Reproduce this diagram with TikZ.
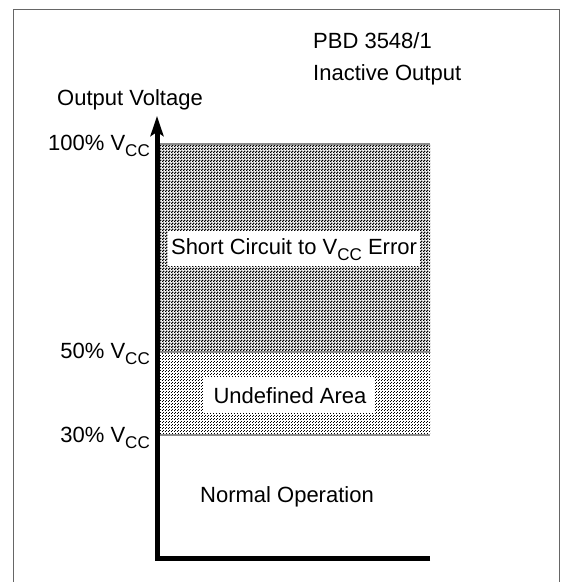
\documentclass[tikz,border=0pt]{standalone}
\usepackage{fontspec}
\setmainfont{Liberation Sans}
\usetikzlibrary{arrows.meta,patterns}
\pgfdeclarepatternformonly{darkcheck}{\pgfpointorigin}{\pgfpoint{3pt}{3pt}}{\pgfpoint{3pt}{3pt}}{%
  \pgfpathrectangle{\pgfpointorigin}{\pgfpoint{1.8pt}{1.8pt}}%
  \pgfpathrectangle{\pgfpoint{1.5pt}{1.5pt}}{\pgfpoint{1.8pt}{1.8pt}}%
  \pgfusepath{fill}}
\pgfdeclarepatternformonly{lightcheck}{\pgfpointorigin}{\pgfpoint{3pt}{3pt}}{\pgfpoint{3pt}{3pt}}{%
  \pgfpathrectangle{\pgfpointorigin}{\pgfpoint{1.1pt}{1.1pt}}%
  \pgfpathrectangle{\pgfpoint{1.5pt}{1.5pt}}{\pgfpoint{1.1pt}{1.1pt}}%
  \pgfusepath{fill}}
\newcommand{\VccSub}{V\raisebox{-0.28em}{\fontsize{17}{17}\selectfont CC}}
\tikzset{
  lbl/.style={font=\fontsize{22}{26}\selectfont, inner sep=0pt, text=black},
  level/.style={lbl, anchor=east},
  axisline/.style={line width=5pt, black},
  edge/.style={draw=black!45, line width=1.2pt},
  frameline/.style={draw=black!60, line width=1pt}
}
\begin{document}
\begin{tikzpicture}[x=1pt,y=-1pt]
\useasboundingbox (0,0) rectangle (568,582);
% frame
\draw[frameline] (13,590) -- (13,9) -- (559,9) -- (559,590);
% regions
\fill[pattern=darkcheck] (160,144) rectangle (430,352);
\fill[pattern=lightcheck] (160,352) rectangle (430,435);
\draw[edge] (160,144) -- (430,144);
\draw[edge] (160,352) -- (430,352);
\draw[edge] (160,435) -- (430,435);
% white label boxes
\fill[white] (168,231) rectangle (420,266);
\fill[white] (203,377) rectangle (375,413);
\node[lbl] (sc) at (294,250) {Short Circuit to \VccSub{} Error};
\node[lbl] (ua) at (290,396) {Undefined Area};
\node[lbl] (no) at (287,497) {Normal Operation};
% axes
\coordinate (xend) at (430,558);
\coordinate (orig) at (157,558);
\coordinate (ytop) at (157,116);
\draw[axisline, line cap=butt, line join=miter, -{Stealth[length=20pt,width=13pt,inset=4pt]}] (xend) -- (orig) -- (ytop);
% texts
\node[lbl, anchor=west] (t1) at (313,41) {PBD 3548/1};
\node[lbl, anchor=west] (t2) at (313,75) {Inactive Output};
\node[lbl] (ov) at (130,100) {Output Voltage};
\node[level] (l100) at (150,146) {100\% \VccSub};
\node[level] (l50) at (150,354) {50\% \VccSub};
\node[level] (l30) at (150,438) {30\% \VccSub};
\end{tikzpicture}
\end{document}
